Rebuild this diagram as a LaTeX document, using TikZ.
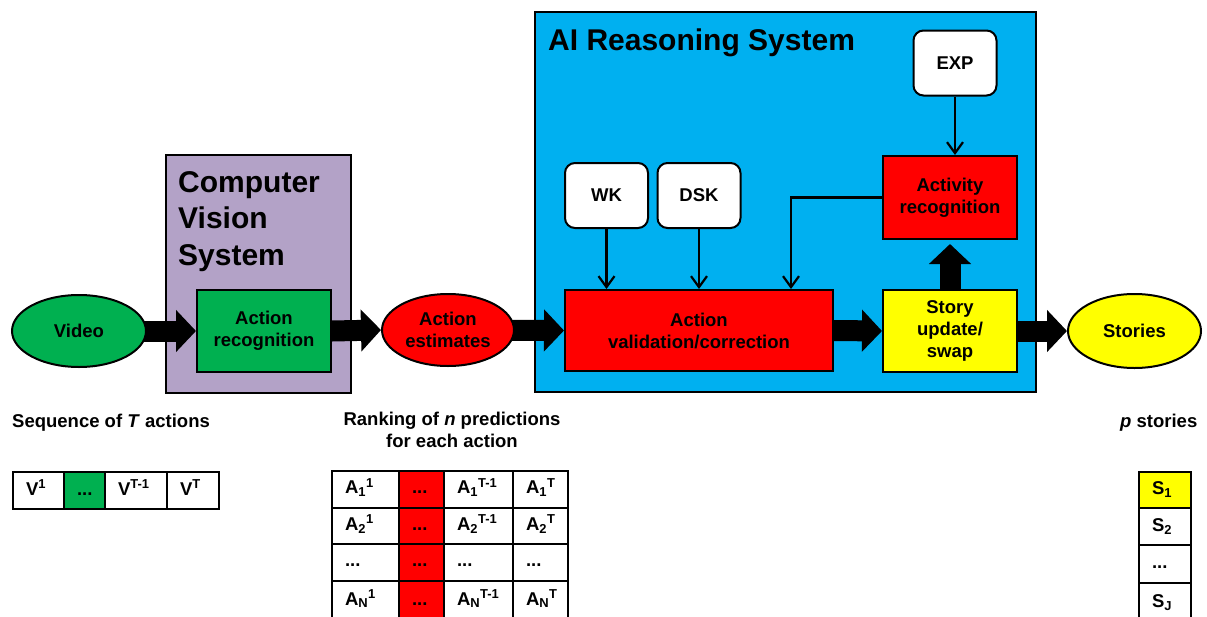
\documentclass[tikz,border=0pt]{standalone}
\usepackage{fontspec}
\setmainfont{Liberation Sans}
\usetikzlibrary{shapes.geometric,arrows.meta}

\definecolor{cvpurple}{HTML}{B3A2C7}
\definecolor{aiblue}{HTML}{00B0F0}
\definecolor{okgreen}{HTML}{00B050}
\definecolor{hotred}{HTML}{FF0000}
\definecolor{sunyellow}{HTML}{FFFF00}

\newcommand\lbl{\bfseries\fontsize{18.5}{22}\selectfont}
\newcommand\ttl{\bfseries\fontsize{30}{36.5}\selectfont}

\pgfdeclarelayer{back}
\pgfdeclarelayer{links}
\pgfsetlayers{back,links,main}

\tikzset{
  box/.style={draw=black, line width=2pt, inner sep=0pt, align=center, font=\lbl},
  frame/.style={draw=black, line width=2pt, inner sep=0pt},
  title/.style={inner sep=0pt, align=left, font=\ttl},
  caption/.style={inner sep=0pt, font=\lbl},
  knowbox/.style={box, rounded corners=10pt, fill=white, minimum width=83pt, minimum height=65pt},
  blockarrow/.style={line width=21pt, -{Triangle[length=20pt,width=41pt]}},
  feed/.style={line width=2.2pt, -{Straight Barb[length=11pt,width=16pt]}},
  cell/.style={draw=black, line width=2pt, anchor=north west, inner xsep=13pt, inner ysep=0pt,
    text width=#1, align=left, font=\lbl, text height=13pt, text depth=4pt},
}

\begin{document}
\begin{tikzpicture}[x=1pt,y=-1pt]
\useasboundingbox (0,0) rectangle (1207,616);

% ---- system frames ----
\begin{pgfonlayer}{back}
  \node[frame, fill=cvpurple, minimum width=185pt, minimum height=238pt] (cvs) at (258.5,274) {};
  \node[frame, fill=aiblue, minimum width=501pt, minimum height=380pt] (ais) at (785.5,202) {};
\end{pgfonlayer}
% multi-line nodes: the base anchor sits on the last line
\node[title, anchor=base west] (cvstitle) at (178,265) {Computer\\Vision\\System};
\node[title, anchor=base west] (aititle) at (548,50) {AI Reasoning System};

% ---- processing chain ----
\node[box, ellipse, fill=okgreen, minimum width=134pt, minimum height=72pt] (video) at (79,331) {Video};
\node[box, fill=okgreen, minimum width=134pt, minimum height=82pt] (ar) at (264,331) {Action\\recognition};
\node[box, ellipse, fill=hotred, minimum width=132pt, minimum height=72pt] (est) at (448,330) {Action\\estimates};
\node[box, fill=hotred, minimum width=268pt, minimum height=81pt] (val) at (699,330.5) {Action\\validation/correction};
\node[knowbox] (wk) at (606.5,195.5) {WK};
\node[knowbox] (dsk) at (699,195.5) {DSK};
\node[knowbox] (exp) at (955,63) {EXP};
\node[box, fill=hotred, minimum width=134pt, minimum height=83pt] (act) at (950,197.5) {Activity\\recognition};
\node[box, fill=sunyellow, minimum width=134pt, minimum height=82pt] (story) at (950,331) {Story\\update/\\swap};
\node[box, ellipse, fill=sunyellow, minimum width=133pt, minimum height=74pt] (stories) at (1134.5,331) {Stories};

% ---- main flow ----
\begin{pgfonlayer}{links}
  \draw[blockarrow] (video.center) -- (ar.west);
  \draw[blockarrow] (ar.east) -- (est.west);
  \draw[blockarrow] (est.center) -- (val.west);
  \draw[blockarrow] (val.east) -- (story.west);
  \draw[blockarrow] (story.east) -- (stories.west);
  \draw[blockarrow, shorten >=4pt] (story.north) -- (act.south);
\end{pgfonlayer}

% ---- knowledge inputs and feedback ----
\draw[feed] (wk.south) -- (wk.south |- val.north);
\draw[feed] (dsk.south) -- (dsk.south |- val.north);
\draw[feed] (exp.south) -- (exp.south |- act.north);
\draw[feed] (act.west) -| ([xshift=-43pt]val.north east);

% ---- captions ----
\node[caption, anchor=base west] (seqlbl) at (12,427) {Sequence of \textit{T} actions};
\node[caption, anchor=base, align=center] (ranklbl) at (452,447) {Ranking of \textit{n} predictions\\for each action};
\node[caption, anchor=base west] (storylbl) at (1120,427) {\textit{p} stories};

% ---- sequence of actions ----
\node[cell=25pt, minimum height=37pt] (seq1) at (12,471) {V\textsuperscript{1}};
\node[cell=15pt, minimum height=37pt, fill=okgreen] (seq2) at (63,471) {...};
\node[cell=36pt, minimum height=37pt] (seq3) at (104,471) {V\textsuperscript{T-1}};
\node[cell=26pt, minimum height=37pt] (seq4) at (166,471) {V\textsuperscript{T}};

% ---- ranking of predictions ----
\node[cell=41pt, minimum height=36.5pt] (r11) at (331,470) {A\textsubscript{1}\textsuperscript{1}};
\node[cell=19pt, minimum height=36.5pt, fill=hotred] (r12) at (398,470) {...};
\node[cell=43pt, minimum height=36.5pt] (r13) at (443,470) {A\textsubscript{1}\textsuperscript{T-1}};
\node[cell=29pt, minimum height=36.5pt] (r14) at (512,470) {A\textsubscript{1}\textsuperscript{T}};
\node[cell=41pt, minimum height=36.5pt] (r21) at (331,506.5) {A\textsubscript{2}\textsuperscript{1}};
\node[cell=19pt, minimum height=36.5pt, fill=hotred] (r22) at (398,506.5) {...};
\node[cell=43pt, minimum height=36.5pt] (r23) at (443,506.5) {A\textsubscript{2}\textsuperscript{T-1}};
\node[cell=29pt, minimum height=36.5pt] (r24) at (512,506.5) {A\textsubscript{2}\textsuperscript{T}};
\node[cell=41pt, minimum height=36.5pt] (r31) at (331,543) {...};
\node[cell=19pt, minimum height=36.5pt, fill=hotred] (r32) at (398,543) {...};
\node[cell=43pt, minimum height=36.5pt] (r33) at (443,543) {...};
\node[cell=29pt, minimum height=36.5pt] (r34) at (512,543) {...};
\node[cell=41pt, minimum height=40pt] (r41) at (331,579.5) {A\textsubscript{N}\textsuperscript{1}};
\node[cell=19pt, minimum height=40pt, fill=hotred] (r42) at (398,579.5) {...};
\node[cell=43pt, minimum height=40pt] (r43) at (443,579.5) {A\textsubscript{N}\textsuperscript{T-1}};
\node[cell=29pt, minimum height=40pt] (r44) at (512,579.5) {A\textsubscript{N}\textsuperscript{T}};

% ---- stories ----
\node[cell=26pt, minimum height=36pt, fill=sunyellow] (st1) at (1138,471) {S\textsubscript{1}};
\node[cell=26pt, minimum height=37pt] (st2) at (1138,507) {S\textsubscript{2}};
\node[cell=26pt, minimum height=38pt] (st3) at (1138,544) {...};
\node[cell=26pt, minimum height=40pt] (st4) at (1138,582) {S\textsubscript{J}};
\end{tikzpicture}
\end{document}
